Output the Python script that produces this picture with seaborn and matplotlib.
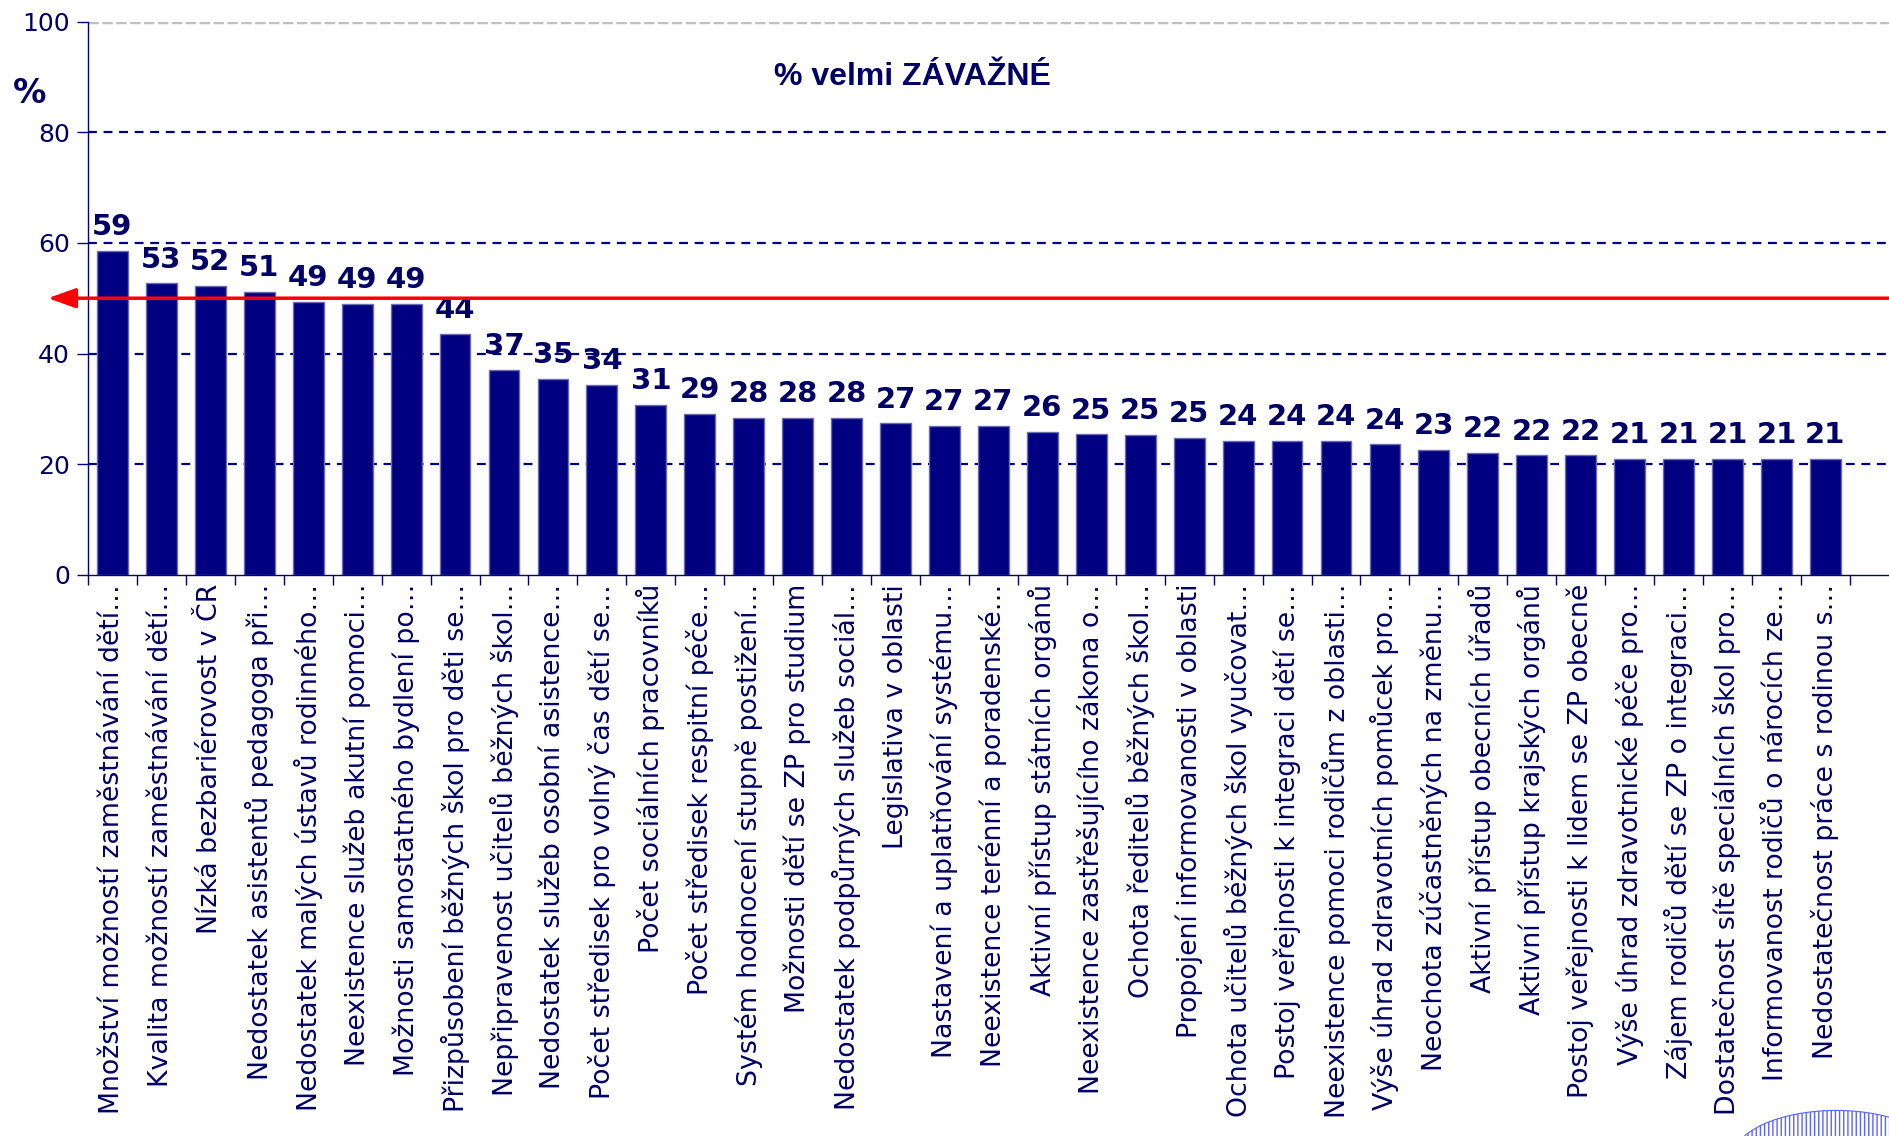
import numpy as np
import pandas as pd
import seaborn as sns
import matplotlib.pyplot as plt
from matplotlib.patches import Ellipse

# Problem areas, sorted as in the original chart
categories = [
    'Množství možností zaměstnávání dětí…',
    'Kvalita možností zaměstnávání dětí…',
    'Nízká bezbariérovost v ČR',
    'Nedostatek asistentů pedagoga při…',
    'Nedostatek malých ústavů rodinného…',
    'Neexistence služeb akutní pomoci…',
    'Možnosti samostatného bydlení po…',
    'Přizpůsobení běžných škol pro děti se…',
    'Nepřipravenost učitelů běžných škol…',
    'Nedostatek služeb osobní asistence…',
    'Počet středisek pro volný čas dětí se…',
    'Počet sociálních pracovníků',
    'Počet středisek respitní péče…',
    'Systém hodnocení stupně postižení…',
    'Možnosti dětí se ZP pro studium',
    'Nedostatek podpůrných služeb sociál…',
    'Legislativa v oblasti',
    'Nastavení a uplatňování systému…',
    'Neexistence terénní a poradenské…',
    'Aktivní přístup státních orgánů',
    'Neexistence zastřešujícího zákona o…',
    'Ochota ředitelů běžných škol…',
    'Propojení informovanosti v oblasti',
    'Ochota učitelů běžných škol vyučovat…',
    'Postoj veřejnosti k integraci dětí se…',
    'Neexistence pomoci rodičům z oblasti…',
    'Výše úhrad zdravotních pomůcek pro…',
    'Neochota zúčastněných na změnu…',
    'Aktivní přístup obecních úřadů',
    'Aktivní přístup krajských orgánů',
    'Postoj veřejnosti k lidem se ZP obecně',
    'Výše úhrad zdravotnické péče pro…',
    'Zájem rodičů dětí se ZP o integraci…',
    'Dostatečnost sítě speciálních škol pro…',
    'Informovanost rodičů o nárocích ze…',
    'Nedostatečnost práce s rodinou s…',
]

# % "velmi závažné"
values = [58.6, 52.7, 52.2, 51.1, 49.4, 49.0, 49.0, 43.6, 37.1, 35.4,
          34.4, 30.7, 29.1, 28.4, 28.4, 28.4, 27.4, 26.9, 26.9, 25.8,
          25.4, 25.3, 24.8, 24.2, 24.2, 24.2, 23.6, 22.6, 22.1, 21.6,
          21.6, 21.0, 21.0, 21.0, 21.0, 21.0]

y_ticks = [0, 20, 40, 60, 80, 100]
threshold = 50

navy = '#000080'
text_navy = '#000066'

sns.set_style('white')
plt.rcParams['font.family'] = ['DejaVu Sans']

df = pd.DataFrame({'problem': categories, 'pct': values})

fig = plt.figure(figsize=(18.89, 11.36), dpi=100)
ax = fig.add_axes([0.0466, 0.494, 0.9534, 0.487])

sns.barplot(data=df, x='problem', y='pct', color=navy, saturation=1,
            width=0.63, edgecolor='#6c6cb4', linewidth=1, ax=ax, zorder=2)

# dashed grid like the Excel original
for y in y_ticks[1:-1]:
    ax.axhline(y, color=navy, ls=(0, (4, 3)), lw=1.6, zorder=1)
ax.axhline(100, color='#c0c0c0', ls=(0, (3, 1)), lw=2.5, zorder=1)

# value labels on top of bars
ax.bar_label(ax.containers[0], labels=[f'{v:.0f}' for v in values],
             padding=7, fontsize=21, fontweight='bold', color=text_navy,
             zorder=4)

# red reference line with arrow pointing left
ax.annotate('', xy=(-1.32, threshold), xytext=(36.3, threshold),
            arrowprops=dict(arrowstyle='-|>,head_length=1.4,head_width=0.5',
                            color='red', lw=2.5, mutation_scale=12,
                            shrinkA=0, shrinkB=0),
            annotation_clip=False, zorder=5)

ax.set_xlim(-0.467, 36.3)
ax.set_ylim(0, 100)
ax.set_yticks(y_ticks)
ax.set_xlabel('')
ax.set_ylabel('')

ax.set_xticks(range(len(categories)))
ax.set_xticklabels(categories, rotation=90)
ax.set_xticks(np.arange(-0.5, len(categories), 1), minor=True)
ax.tick_params(axis='x', which='major', length=0, pad=6.5, labelsize=19.3,
               labelcolor=text_navy)
ax.tick_params(axis='x', which='minor', length=7, width=1, color=navy,
               direction='out', bottom=True)
ax.tick_params(axis='y', length=8, width=1, color=navy, pad=5,
               labelsize=18, labelcolor=text_navy, direction='out', left=True)

for side in ['top', 'right']:
    ax.spines[side].set_visible(False)
for side in ['left', 'bottom']:
    ax.spines[side].set_color(navy)
    ax.spines[side].set_linewidth(1)

fig.text(0.483, 0.925, '% velmi ZÁVAŽNÉ', family='Liberation Sans',
         fontweight='bold', fontsize=23, color=text_navy,
         ha='center', va='baseline')
fig.text(0.0159, 0.909, '%', fontweight='bold', fontsize=24,
         color=text_navy, ha='center', va='baseline')

# partial logo in the bottom-right corner
fig.patches.append(Ellipse((0.972, -0.02), 0.11, 0.085,
                           transform=fig.transFigure, facecolor='white',
                           edgecolor='#5a64ff', hatch='||||', lw=0.8))

fig.savefig('out.png', dpi=100)
